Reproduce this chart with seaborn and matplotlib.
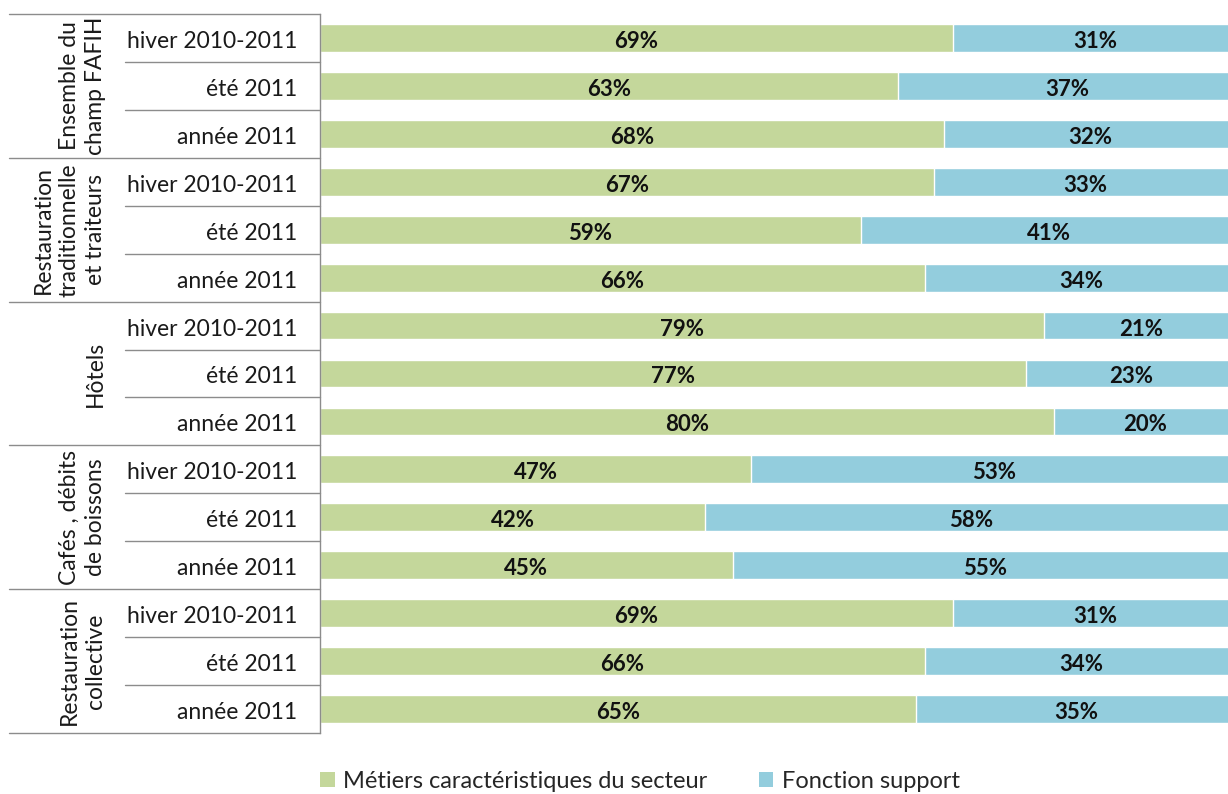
import matplotlib
matplotlib.use("Agg")
import matplotlib.pyplot as plt
import matplotlib.transforms as mtransforms
from matplotlib.patches import Patch
import seaborn as sns
import pandas as pd

groups = ["Ensemble du\nchamp FAFIH", "Restauration\ntraditionnelle\net traiteurs",
          "Hôtels", "Cafés , débits\nde boissons", "Restauration\ncollective"]
periods = ["hiver 2010-2011", "été 2011", "année 2011"]
metiers = [69, 63, 68, 67, 59, 66, 79, 77, 80, 47, 42, 45, 69, 66, 65]
support = [31, 37, 32, 33, 41, 34, 21, 23, 20, 53, 58, 55, 31, 34, 35]
series_names = ["Métiers caractéristiques du secteur", "Fonction support"]
colors = ["#C4D79B", "#93CDDD"]

sns.set_theme(style="white")
plt.rcParams["font.family"] = ["Lato", "DejaVu Sans"]

rows = [f"{g}|{p}" for g in groups for p in periods]
df = pd.DataFrame({"row": rows, "metiers": metiers,
                   "total": [m + s for m, s in zip(metiers, support)],
                   "support": support})

W, H = 1228, 794
fig = plt.figure(figsize=(W / 100, H / 100), dpi=100)
ax = fig.add_axes([320 / W, 1 - 733 / H, 917 / W, (733 - 14) / H])

sns.barplot(data=df, y="row", x="total", color=colors[1], orient="h",
            width=0.58, ax=ax, saturation=1)
sns.barplot(data=df, y="row", x="metiers", color=colors[0], orient="h",
            width=0.58, ax=ax, saturation=1)

ax.set_xlim(0, 100)
ax.set_ylim(len(rows) - 0.5, -0.5)
ax.set_xlabel("")
ax.set_ylabel("")
ax.set_xticks([])
ax.set_yticks([])
for s in ["top", "right", "bottom"]:
    ax.spines[s].set_visible(False)
ax.spines["left"].set_color("#8C8C8C")
ax.spines["left"].set_linewidth(1.0)

# value labels
for i, (m, s) in enumerate(zip(metiers, support)):
    ax.text(m / 2, i + 0.03, f"{m}%", ha="center", va="center_baseline", fontsize=16,
            fontweight="bold", color="#111111")
    ax.text(m + s / 2, i + 0.03, f"{s}%", ha="center", va="center_baseline", fontsize=16,
            fontweight="bold", color="#111111")

# table-like left labels
trans = mtransforms.blended_transform_factory(fig.transFigure, ax.transData)
line_kw = dict(color="#8C8C8C", lw=1.0, transform=trans, clip_on=False)
x_axis = 320 / W
x_outer = 9 / W
x_inner = 125 / W
n = len(rows)
for i in range(n + 1):
    y = i - 0.5
    if i % 3 == 0:
        ax.plot([x_outer, x_axis], [y, y], **line_kw)
    else:
        ax.plot([x_inner, x_axis], [y, y], **line_kw)

for i, r in enumerate(rows):
    period = r.split("|")[1]
    ax.text(297 / W, i + 0.03, period, transform=trans, ha="right", va="center_baseline",
            fontsize=16.5, color="#1a1a1a")

for gi, g in enumerate(groups):
    yc = gi * 3 + 1
    ax.text(106 / W, yc, g, transform=trans, ha="right", va="center",
            rotation=90, multialignment="center", fontsize=16.5,
            color="#1a1a1a", linespacing=1.3)

handles = [Patch(facecolor=c, edgecolor="none") for c in colors]
fig.legend(handles, series_names, loc="center", bbox_to_anchor=(640 / W, 1 - 781 / H),
           ncol=2, frameon=False, fontsize=17, handlelength=0.6, handleheight=0.6,
           handletextpad=0.35, columnspacing=2.2)

fig.savefig("out.png", dpi=100)
